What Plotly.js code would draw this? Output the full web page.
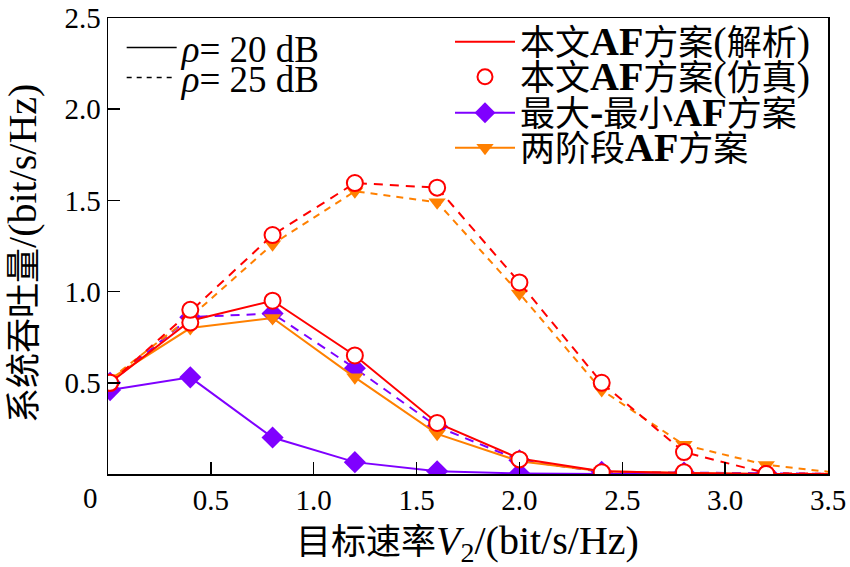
<!DOCTYPE html>
<html><head><meta charset="utf-8">
<script src="https://cdn.plot.ly/plotly-3.0.1.min.js"></script>
<style>html,body{margin:0;padding:0;background:#fff}</style>
</head><body><div id="chart" style="width:850px;height:567px"></div>
<script>
// target rate V2 (bit/s/Hz)
const rates = [0.01, 0.4, 0.8, 1.2, 1.6, 2.0, 2.4, 2.8, 3.2, 3.6];
// rho = 20 dB
const proposedAna20 = [0.50, 0.84, 0.95, 0.65, 0.28, 0.085, 0.015, 0.005, 0.0, 0.0];
const proposedSim20 = [0.50, 0.83, 0.95, 0.65, 0.28, 0.08, 0.01, 0.01, 0.0, 0.0];
const maxMin20      = [0.46, 0.53, 0.20, 0.065, 0.015, 0.003, 0.0, 0.0, 0.0, 0.0];
const twoStage20    = [0.52, 0.80, 0.855, 0.53, 0.22, 0.07, 0.015, 0.005, 0.0, 0.0];
// rho = 25 dB
const proposedAna25 = [0.50, 0.89, 1.31, 1.595, 1.57, 1.05, 0.50, 0.12, 0.005, 0.0];
const proposedSim25 = [0.50, 0.90, 1.31, 1.595, 1.57, 1.05, 0.50, 0.12, 0.0, 0.0];
const maxMin25      = [0.50, 0.86, 0.88, 0.58, 0.26, 0.075, 0.012, 0.008, 0.005, 0.0];
const twoStage25    = [0.52, 0.86, 1.26, 1.55, 1.49, 0.99, 0.46, 0.16, 0.05, 0.0];

const xTicks = [0.5, 1.0, 1.5, 2.0, 2.5, 3.0, 3.5];
const xTickText = ['0.5', '1.0', '1.5', '2.0', '2.5', '3.0', '3.5'];
const yTicks = [0.5, 1.0, 1.5, 2.0, 2.5];
const yTickText = ['0.5', '1.0', '1.5', '2.0', '2.5'];

const L = s => '<span style="font-size:40px">' + s + '</span>';
const legendNames = ['本文' + L('<b>AF</b>') + '方案' + L('(') + '解析' + L(')'),
                     '本文' + L('<b>AF</b>') + '方案' + L('(') + '仿真' + L(')'),
                     '最大' + L('<b>-</b>') + '最小' + L('<b>AF</b>') + '方案',
                     '两阶段' + L('<b>AF</b>') + '方案'];
const rhoNames = ['<i>ρ</i>= 20 dB', '<i>ρ</i>= 25 dB'];
const xTitle = '目标速率' + L('<i>V</i><sub>2</sub>/(bit/s/Hz)');
const yTitle = '系统吞吐量' + L('/(bit/s/Hz)');

const RED = '#ff0000', PURPLE = '#7f00ff', ORANGE = '#ff8000';
const LW = 2;

const traces = [
  {x: rates, y: maxMin20, mode: 'lines+markers', line: {color: PURPLE, width: LW}, marker: {symbol: 'diamond', size: 17, color: PURPLE}, showlegend: false},
  {x: rates, y: maxMin25, mode: 'lines+markers', line: {color: PURPLE, width: LW, dash: '9px,7px'}, marker: {symbol: 'diamond', size: 17, color: PURPLE}, showlegend: false},
  {x: rates, y: twoStage20, mode: 'lines+markers', line: {color: ORANGE, width: LW}, marker: {symbol: 'triangle-down', size: 15, color: ORANGE}, showlegend: false},
  {x: rates, y: twoStage25, mode: 'lines+markers', line: {color: ORANGE, width: LW, dash: '7px,6px'}, marker: {symbol: 'triangle-down', size: 15, color: ORANGE}, showlegend: false},
  {x: rates, y: proposedAna20, mode: 'lines', line: {color: RED, width: LW}, showlegend: false},
  {x: rates, y: proposedAna25, mode: 'lines', line: {color: RED, width: LW, dash: '9px,7px'}, showlegend: false},
  {x: rates, y: proposedSim20, mode: 'markers', marker: {symbol: 'circle', size: 16, color: '#ffffff', line: {color: RED, width: 2}}, showlegend: false},
  {x: rates, y: proposedSim25, mode: 'markers', marker: {symbol: 'circle', size: 16, color: '#ffffff', line: {color: RED, width: 2}}, showlegend: false},
  // legend entries
  {x: [null], y: [null], mode: 'lines', name: legendNames[0], line: {color: RED, width: LW}, legend: 'legend'},
  {x: [null], y: [null], mode: 'markers', name: legendNames[1], marker: {symbol: 'circle', size: 15, color: '#ffffff', line: {color: RED, width: 2}}, legend: 'legend2'},
  {x: [null], y: [null], mode: 'lines+markers', name: legendNames[2], line: {color: PURPLE, width: LW}, marker: {symbol: 'diamond', size: 17, color: PURPLE}, legend: 'legend3'},
  {x: [null], y: [null], mode: 'lines+markers', name: legendNames[3], line: {color: ORANGE, width: LW}, marker: {symbol: 'triangle-down', size: 15, color: ORANGE}, legend: 'legend4'},
  {x: [null], y: [null], mode: 'lines', name: rhoNames[0], line: {color: '#000', width: 1.5}, legend: 'legend5'},
  {x: [null], y: [null], mode: 'lines', name: rhoNames[1], line: {color: '#000', width: 1.5, dash: '5px,5px'}, legend: 'legend6'}
];

const FONT = 'Liberation Serif, Times New Roman, Noto Sans CJK SC, serif';

function leg(x, yc, iw, size) {
  return {x: x, y: yc, xanchor: 'left', yanchor: 'middle', bgcolor: 'rgba(0,0,0,0)',
          font: {family: FONT, size: size, color: '#000'}, itemwidth: iw};
}
const toPaperY = px => (474 - px) / 456;

const layout = {
  width: 850, height: 567,
  margin: {l: 108, r: 22, t: 18, b: 93},
  paper_bgcolor: '#fff', plot_bgcolor: '#fff',
  font: {family: FONT, size: 29, color: '#000'},
  showlegend: true,
  xaxis: {
    range: [0, 3.5], tickvals: xTicks, ticktext: xTickText,
    ticks: 'inside', ticklen: 12, tickwidth: 1.5, tickcolor: '#000',
    showline: true, linecolor: '#000', linewidth: 1.5, mirror: true,
    showgrid: false, zeroline: false,
    tickfont: {family: FONT, size: 29}
  },
  yaxis: {
    range: [0, 2.5], tickvals: yTicks, ticktext: yTickText,
    ticks: 'inside', ticklen: 12, tickwidth: 1.5, tickcolor: '#000',
    showline: true, linecolor: '#000', linewidth: 1.5, mirror: true,
    showgrid: false, zeroline: false,
    tickfont: {family: FONT, size: 29}
  },
  legend:  leg(0.475, toPaperY(42), 60, 35),
  legend2: leg(0.475, toPaperY(77), 60, 35),
  legend3: leg(0.475, toPaperY(113), 60, 35),
  legend4: leg(0.475, toPaperY(148), 60, 35),
  legend5: leg(0.019, toPaperY(48), 50, 37),
  legend6: leg(0.019, toPaperY(78), 50, 37),
  annotations: [
    {text: '0', xref: 'paper', yref: 'paper', x: 0, y: 0, xanchor: 'center', yanchor: 'top', xshift: -18, yshift: -6, showarrow: false, font: {family: FONT, size: 29}},
    {text: xTitle, xref: 'paper', yref: 'paper', x: 0.499, y: 0, xanchor: 'center', yanchor: 'middle', yshift: -69, showarrow: false, font: {family: FONT, size: 35}},
    {text: yTitle, xref: 'paper', yref: 'paper', x: 0, y: toPaperY(254), xanchor: 'center', yanchor: 'middle', xshift: -86, textangle: -90, showarrow: false, font: {family: FONT, size: 35}}
  ]
};

Plotly.newPlot('chart', traces, layout, {displayModeBar: false, staticPlot: true});
</script></body></html>
